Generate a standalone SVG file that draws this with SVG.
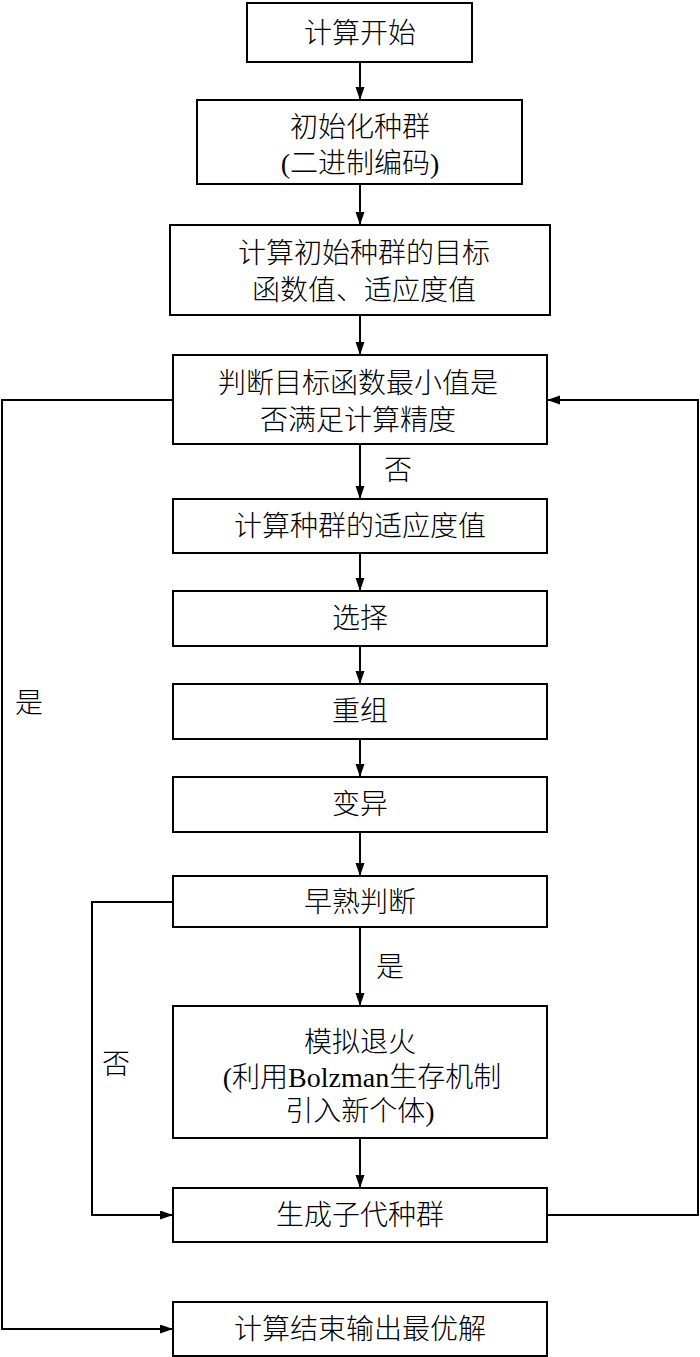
<svg xmlns="http://www.w3.org/2000/svg" width="700" height="1357" viewBox="0 0 700 1357">
<style>
.box{fill:#fff;stroke:#000;stroke-width:2}
.t{font-family:"Liberation Serif","Noto Sans CJK SC",serif;font-size:28px;font-weight:300;fill:#000;text-anchor:middle}
.c{fill:none;stroke:#000;stroke-width:2}
</style>
<defs>
<marker id="ah" markerUnits="userSpaceOnUse" markerWidth="14" markerHeight="10" refX="13" refY="4.5" orient="auto">
<path d="M0,0 L13,4.5 L0,9 z" fill="#000"/>
</marker>
</defs>
<rect width="700" height="1357" fill="#fff"/>
<g id="connectors">
<line class="c" x1="360" y1="62" x2="360" y2="100" marker-end="url(#ah)"/>
<line class="c" x1="360" y1="184" x2="360" y2="225" marker-end="url(#ah)"/>
<line class="c" x1="360" y1="315" x2="360" y2="355" marker-end="url(#ah)"/>
<line class="c" x1="360" y1="444" x2="360" y2="499" marker-end="url(#ah)"/>
<line class="c" x1="360" y1="553" x2="360" y2="591" marker-end="url(#ah)"/>
<line class="c" x1="360" y1="646" x2="360" y2="684" marker-end="url(#ah)"/>
<line class="c" x1="360" y1="739" x2="360" y2="777" marker-end="url(#ah)"/>
<line class="c" x1="360" y1="832" x2="360" y2="876" marker-end="url(#ah)"/>
<line class="c" x1="360" y1="927" x2="360" y2="1006" marker-end="url(#ah)"/>
<line class="c" x1="360" y1="1138" x2="360" y2="1188" marker-end="url(#ah)"/>
<polyline class="c" points="173,400 2,400 2,1329 173,1329" marker-end="url(#ah)"/>
<polyline class="c" points="547,1215 698,1215 698,400 547,400" marker-end="url(#ah)"/>
<polyline class="c" points="173,902 92,902 92,1215 173,1215" marker-end="url(#ah)"/>
<text class="t" x="398" y="480">否</text>
<text class="t" x="29" y="713">是</text>
<text class="t" x="390" y="977">是</text>
<text class="t" x="116" y="1074">否</text>
</g>
<g id="n1"><rect class="box" x="247" y="3" width="225" height="59"/><text class="t" x="360" y="43">计算开始</text></g>
<g id="n2"><rect class="box" x="197" y="100" width="325" height="84"/><text class="t" x="360" y="137">初始化种群</text><text class="t" x="360" y="173">(二进制编码)</text></g>
<g id="n3"><rect class="box" x="170" y="225" width="380" height="90"/><text class="t" x="364" y="263">计算初始种群的目标</text><text class="t" x="364" y="300">函数值、适应度值</text></g>
<g id="n4"><rect class="box" x="173" y="355" width="374" height="89"/><text class="t" x="358" y="393">判断目标函数最小值是</text><text class="t" x="358" y="430">否满足计算精度</text></g>
<g id="n5"><rect class="box" x="173" y="499" width="374" height="54"/><text class="t" x="360" y="536">计算种群的适应度值</text></g>
<g id="n6"><rect class="box" x="173" y="591" width="374" height="55"/><text class="t" x="360" y="628">选择</text></g>
<g id="n7"><rect class="box" x="173" y="684" width="374" height="55"/><text class="t" x="360" y="721">重组</text></g>
<g id="n8"><rect class="box" x="173" y="777" width="374" height="55"/><text class="t" x="360" y="814">变异</text></g>
<g id="n9"><rect class="box" x="173" y="876" width="374" height="51"/><text class="t" x="360" y="912">早熟判断</text></g>
<g id="n10"><rect class="box" x="173" y="1006" width="374" height="132"/><text class="t" x="360" y="1052">模拟退火</text><text class="t" x="362" y="1087">(利用Bolzman生存机制</text><text class="t" x="360" y="1121">引入新个体)</text></g>
<g id="n11"><rect class="box" x="173" y="1188" width="374" height="54"/><text class="t" x="360" y="1225">生成子代种群</text></g>
<g id="n12"><rect class="box" x="173" y="1302" width="374" height="54"/><text class="t" x="360" y="1339">计算结束输出最优解</text></g>
</svg>
